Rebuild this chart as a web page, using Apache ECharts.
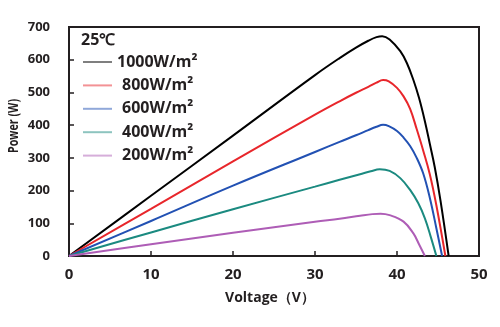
<!DOCTYPE html>
<html>
<head>
<meta charset="utf-8">
<script src="https://cdn.jsdelivr.net/npm/echarts@6/dist/echarts.min.js"></script>
<style>
  html, body { margin: 0; padding: 0; background: #fff; }
  #chart { width: 500px; height: 327px; }
</style>
</head>
<body>
<div id="chart"></div>
<script>
// P-V curves of a PV module at 25 °C for five irradiance levels: [voltage (V), power (W)]
const seriesNames = ['1000W/m²', '800W/m²', '600W/m²', '400W/m²', '200W/m²'];
const seriesColors = ['#000000', '#e8262b', '#2251b3', '#1b8a80', '#ae5db6'];

const curve1000 = [[0,0],[10,184],[20,368],[30,553],[33,605],[35,637],[36.5,658],[37.5,669],[38.2,672],
  [39.1,662],[40.4,626],[41.2,590],[42.0,538],[42.7,482],[43.4,412],[44.0,343],[44.6,272],[45.3,170],[46.3,0]];
const curve800 = [[0,0],[10,144],[20,289],[30,432],[33,473],[35,499],[36.5,517],[37.5,530],[38.3,538],
  [39.0,534],[40.0,514],[40.8,488],[41.6,450],[42.4,388],[43.2,322],[44.0,250],[44.8,155],[45.9,0]];
const curve600 = [[0,0],[10,107],[20,215],[30,318],[33,349],[35,369],[36.5,385],[37.5,395],[38.3,401],
  [39.0,397],[40.0,382],[40.8,362],[41.6,336],[42.4,300],[43.2,252],[44.0,178],[44.8,85],[45.5,0]];
const curve400 = [[0,0],[10,72],[20,143],[30,212],[33,233],[35.5,250],[36.8,259],[37.9,265],[39.1,260],
  [40.4,238],[41.6,202],[42.6,161],[43.4,115],[44.1,60],[44.8,0]];
const curve200 = [[0,0],[10,36],[20,71],[30,105],[33,114],[35.5,123],[37,128],[38,129.5],[39.1,125],
  [40.8,105],[42.0,69],[42.7,35],[43.4,0]];
const curves = [curve1000, curve800, curve600, curve400, curve200];

const tempLabel = '25℃';
const xTitle = 'Voltage（V）';
const yTitle = 'Power (W)';

const ink = '#231f20';
const chart = echarts.init(document.getElementById('chart'), null, { renderer: 'canvas' });

chart.setOption({
  animation: false,
  backgroundColor: '#ffffff',
  grid: {
    left: 69, right: 21, top: 27, bottom: 71,
    show: true, borderColor: ink, borderWidth: 2, backgroundColor: 'transparent'
  },
  title: {
    text: tempLabel, left: 76, top: 27,
    textStyle: { fontFamily: 'Open Sans', fontWeight: 'bold', fontSize: 16, color: ink }
  },
  legend: {
    orient: 'vertical', left: 77, top: 49,
    itemWidth: 29, itemHeight: 16, itemGap: 7.4,
    data: seriesNames,
    itemStyle: { opacity: 0 },
    lineStyle: { width: 2, opacity: 0.5 },
    formatter: name => name.length < 8 ? '{p|' + name + '}' : name,
    textStyle: {
      fontFamily: 'Open Sans', fontWeight: 'bold', fontSize: 16, color: ink, lineHeight: 16,
      rich: { p: { fontFamily: 'Open Sans', fontWeight: 'bold', fontSize: 16, color: ink, padding: [0, 0, 0, 5] } }
    }
  },
  xAxis: {
    type: 'value', min: 0, max: 50, interval: 10,
    axisLine: { show: true, lineStyle: { color: ink, width: 2 } },
    axisTick: { show: true, inside: true, length: 5, lineStyle: { color: ink, width: 1.5 } },
    axisLabel: { margin: 11, fontFamily: 'Open Sans', fontWeight: 'bold', fontSize: 15, color: ink },
    splitLine: { show: false }
  },
  yAxis: {
    type: 'value', min: 0, max: 700, interval: 100,
    axisLine: { show: true, lineStyle: { color: ink, width: 2 } },
    axisTick: { show: true, inside: true, length: 5, lineStyle: { color: ink, width: 1.5 } },
    axisLabel: { margin: 19, fontFamily: 'Open Sans', fontWeight: 'bold', fontSize: 13, color: ink },
    splitLine: { show: false }
  },
  graphic: [
    {
      type: 'text', x: 270, y: 298,
      style: { text: xTitle, fontFamily: 'Open Sans', fontWeight: 'bold', fontSize: 14, fill: ink,
        align: 'center', verticalAlign: 'middle' }
    },
    {
      type: 'text', x: 14, y: 126, rotation: Math.PI / 2, scaleX: 0.74,
      style: { text: yTitle, fontFamily: 'Open Sans', fontWeight: 'bold', fontSize: 14.5, fill: ink,
        align: 'center', verticalAlign: 'middle' }
    }
  ],
  series: seriesNames.map((name, i) => ({
    name: name,
    type: 'line',
    data: curves[i],
    smooth: 0.4,
    symbol: 'none',
    color: seriesColors[i],
    lineStyle: { color: seriesColors[i], width: 2 }
  }))
});
</script>
</body>
</html>
